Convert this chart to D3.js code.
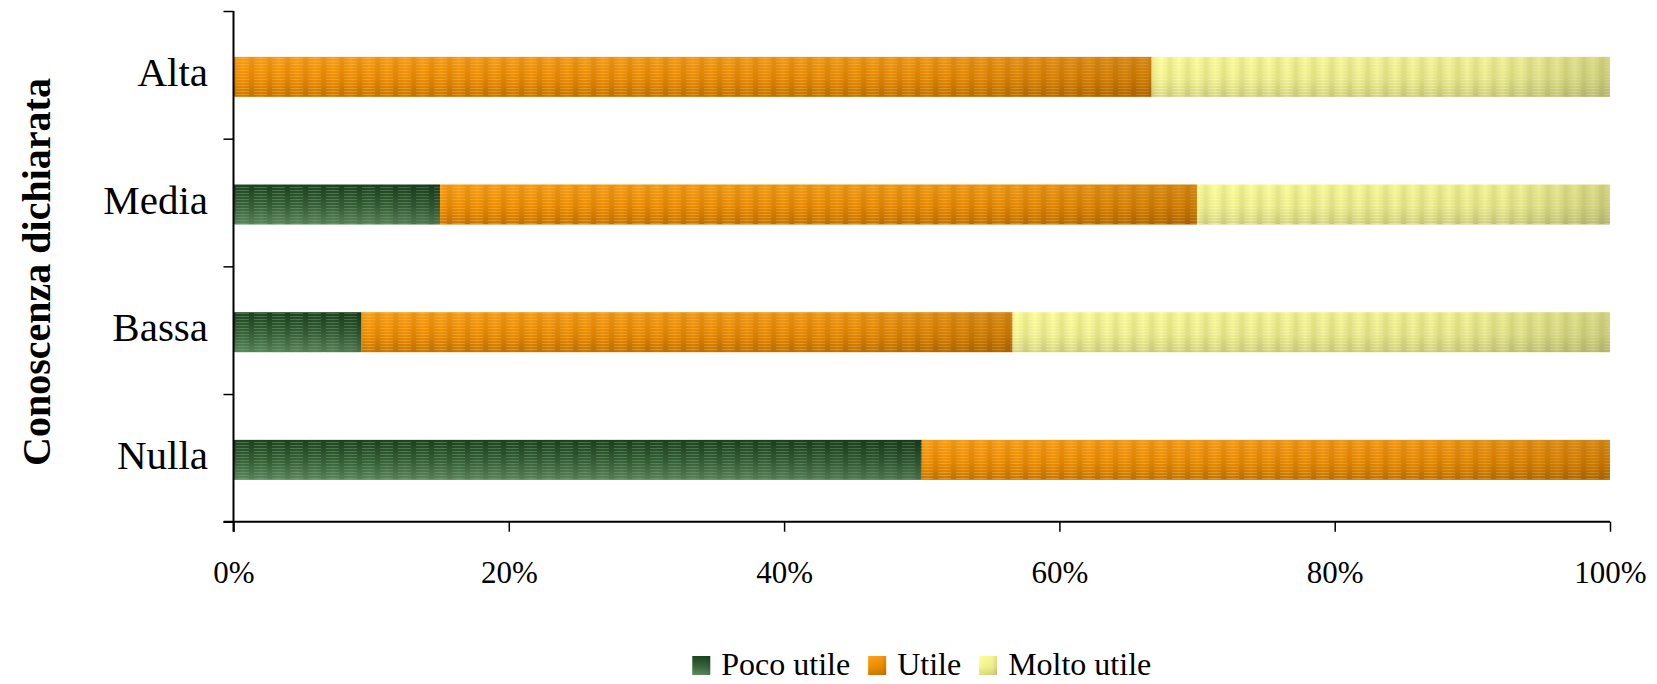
<!DOCTYPE html>
<html>
<head>
<meta charset="utf-8">
<script src="https://cdn.jsdelivr.net/npm/d3@7"></script>
<style>
  html, body { margin: 0; padding: 0; background: #ffffff; }
  svg { display: block; }
  text { font-family: "Liberation Serif", "Times New Roman", serif; fill: #000; }
</style>
</head>
<body>
<svg id="chart" width="1657" height="684"></svg>
<script>
// ---- data (percent) ----
const categories = ["Alta", "Media", "Bassa", "Nulla"];
const seriesNames = ["Poco utile", "Utile", "Molto utile"];
const pocoUtile  = [0,    15.0,  9.3, 50.0];
const utile      = [66.7, 55.0, 47.3, 50.0];
const moltoUtile = [33.3, 30.0, 43.4,  0.0];
const tickValues = [0, 20, 40, 60, 80, 100];
const axisTitle = "Conoscenza dichiarata";

const rows = categories.map((c, i) => ({
  cat: c, "Poco utile": pocoUtile[i], "Utile": utile[i], "Molto utile": moltoUtile[i]
}));

// ---- layout ----
const plotLeft = 233.5, plotRight = 1610, plotTop = 11, plotBottom = 521.7;
const svg = d3.select("#chart");
const defs = svg.append("defs");

const styles = {
  "Poco utile":  { id: "g0", top: "#1d461f", mid: "#3a663b", bot: "#5e8c60", stripe: "#7fa67f" },
  "Utile":       { id: "g1", top: "#ffa116", mid: "#f39000", bot: "#cf7a00", stripe: "#f8c060" },
  "Molto utile": { id: "g2", top: "#ffff96", mid: "#f6f690", bot: "#dcdc84", stripe: "#ffffd0" }
};

Object.values(styles).forEach(s => {
  const g = defs.append("linearGradient").attr("id", s.id)
    .attr("x1", 0).attr("y1", 0).attr("x2", 0).attr("y2", 1);
  g.append("stop").attr("offset", "0%").attr("stop-color", s.top);
  g.append("stop").attr("offset", "55%").attr("stop-color", s.mid);
  g.append("stop").attr("offset", "100%").attr("stop-color", s.bot);
  const p = defs.append("pattern").attr("id", s.id + "s")
    .attr("patternUnits", "userSpaceOnUse").attr("width", 18).attr("height", 3);
  p.append("rect").attr("x", 2).attr("y", 1).attr("width", 13).attr("height", 1)
    .attr("fill", s.stripe).attr("opacity", 0.45);
});
const shade = defs.append("linearGradient").attr("id", "shade")
  .attr("x1", 0).attr("y1", 0).attr("x2", 1).attr("y2", 0);
shade.append("stop").attr("offset", "0%").attr("stop-color", "#000").attr("stop-opacity", 0);
shade.append("stop").attr("offset", "75%").attr("stop-color", "#000").attr("stop-opacity", 0.04);
shade.append("stop").attr("offset", "100%").attr("stop-color", "#000").attr("stop-opacity", 0.14);
const vband = defs.append("pattern").attr("id", "vband")
  .attr("patternUnits", "userSpaceOnUse").attr("width", 18).attr("height", 10);
const bg = defs.append("linearGradient").attr("id", "vbandg").attr("x1", 0).attr("x2", 1).attr("y1", 0).attr("y2", 0);
bg.append("stop").attr("offset", "0%").attr("stop-color", "#000").attr("stop-opacity", 0.08);
bg.append("stop").attr("offset", "50%").attr("stop-color", "#000").attr("stop-opacity", 0);
bg.append("stop").attr("offset", "100%").attr("stop-color", "#000").attr("stop-opacity", 0.08);
vband.append("rect").attr("width", 18).attr("height", 10).attr("fill", "url(#vbandg)");

// ---- scales ----
const x = d3.scaleLinear().domain([0, 100]).range([plotLeft, plotRight]);
const y = d3.scaleBand().domain(categories).range([plotTop, plotBottom]).paddingInner(0.687).paddingOuter(0.3435);
const yLin = d3.scaleLinear().domain([0, categories.length]).range([plotTop, plotBottom]);

const stacked = d3.stack().keys(seriesNames)(rows);

const barOffset = 2;
stacked.forEach(layer => {
  const s = styles[layer.key];
  const g = svg.append("g");
  const segs = layer.filter(d => d[1] - d[0] > 0);
  ["url(#" + s.id + ")", "url(#" + s.id + "s)", "url(#vband)", "url(#shade)"].forEach(fill => {
    g.selectAll(null).data(segs).join("rect")
      .attr("x", d => x(d[0]))
      .attr("y", d => y(d.data.cat) + barOffset)
      .attr("width", d => x(d[1]) - x(d[0]))
      .attr("height", y.bandwidth())
      .attr("fill", fill);
  });
});

// ---- axes ----
const xAxis = svg.append("g").attr("transform", `translate(0,${plotBottom})`)
  .call(d3.axisBottom(x).tickValues(tickValues).tickSize(10).tickFormat(d => d + "%"));
xAxis.select(".domain").attr("d", `M${plotLeft - 10},0H${plotRight}`).attr("stroke", "#000").attr("stroke-width", 2);
xAxis.selectAll(".tick line").attr("stroke", "#000").attr("stroke-width", 1.5);
xAxis.selectAll(".tick text").attr("y", 61).attr("dy", 0)
  .attr("font-size", 31).attr("font-family", "Liberation Serif").attr("fill", "#000");

const yAxis = svg.append("g").attr("transform", `translate(${plotLeft},0)`)
  .call(d3.axisLeft(yLin).tickValues(d3.range(categories.length + 1)).tickSize(10).tickFormat(""));
yAxis.select(".domain").attr("d", `M0,${plotTop}V${plotBottom + 10}`).attr("stroke", "#000").attr("stroke-width", 2);
yAxis.selectAll(".tick line").attr("stroke", "#000").attr("stroke-width", 1.5);

// category labels
svg.append("g").selectAll("text").data(categories).join("text")
  .attr("x", 208)
  .attr("y", d => y(d) + y.bandwidth() / 2 + 11)
  .attr("text-anchor", "end")
  .attr("font-size", 41)
  .text(d => d);

// axis title
svg.append("text")
  .attr("transform", `translate(50,272) rotate(-90)`)
  .attr("text-anchor", "middle")
  .attr("font-size", 40)
  .attr("font-weight", "bold")
  .text(axisTitle);

// ---- legend ----
const legend = svg.append("g");
const items = legend.selectAll("g").data(seriesNames).join("g");
items.append("rect").attr("width", 18).attr("height", 19).attr("y", 656)
  .attr("fill", d => "url(#" + styles[d].id + ")");
items.append("rect").attr("width", 18).attr("height", 19).attr("y", 656)
  .attr("fill", "url(#shade)");
items.append("text").attr("y", 675).attr("font-size", 32).text(d => d);
const widths = [];
items.each(function () {
  widths.push(d3.select(this).select("text").node().getComputedTextLength());
});
const squareGap = 11, itemGap = 18;
const total = widths.reduce((a, w) => a + 18 + squareGap + w, 0) + itemGap * (widths.length - 1);
let cx = (plotLeft + plotRight) / 2 - total / 2;
items.each(function (d, i) {
  const g = d3.select(this);
  g.selectAll("rect").attr("x", cx);
  g.select("text").attr("x", cx + 18 + squareGap);
  cx += 18 + squareGap + widths[i] + itemGap;
});
</script>
</body>
</html>
